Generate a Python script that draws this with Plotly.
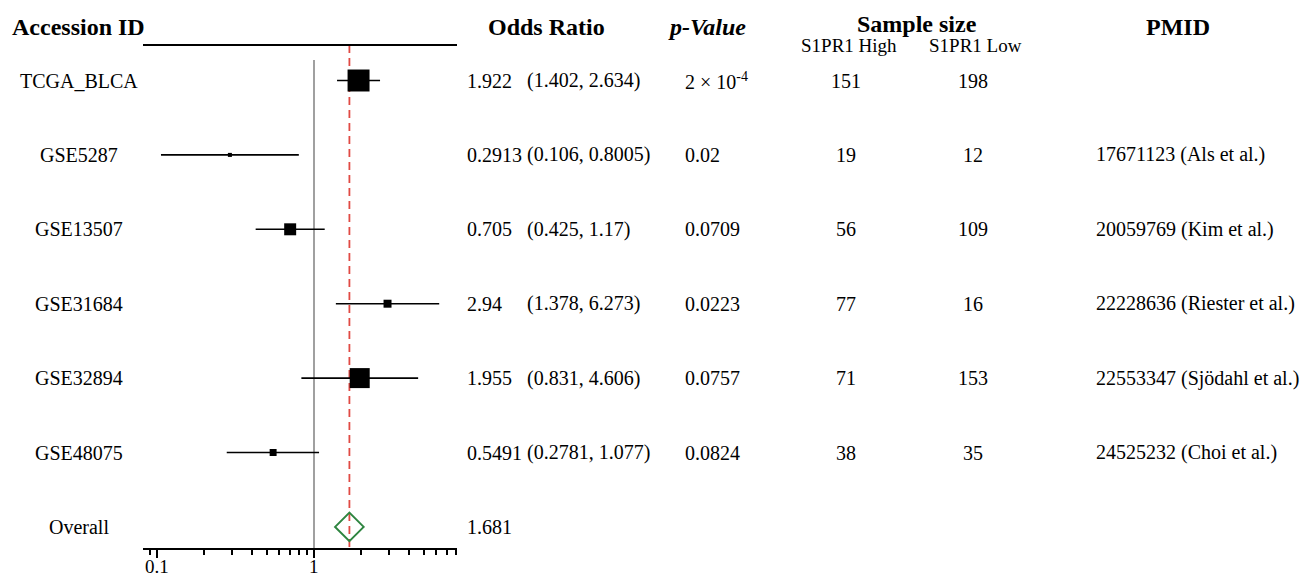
import math
import plotly.graph_objects as go

# ---------------- data ----------------
studies = ["TCGA_BLCA", "GSE5287", "GSE13507", "GSE31684", "GSE32894", "GSE48075"]
odds_ratio = [1.922, 0.2913, 0.705, 2.94, 1.955, 0.5491]
ci_low = [1.402, 0.106, 0.425, 1.378, 0.831, 0.2781]
ci_high = [2.634, 0.8005, 1.17, 6.273, 4.606, 1.077]
p_values = ["2 × 10<sup>-4</sup>", "0.02", "0.0709", "0.0223", "0.0757", "0.0824"]
n_high = [151, 19, 56, 77, 71, 38]
n_low = [198, 12, 109, 16, 153, 35]
pmids = ["", "17671123 (Als et al.)", "20059769 (Kim et al.)",
         "22228636 (Riester et al.)", "22553347 (Sjödahl et al.)",
         "24525232 (Choi et al.)"]
weights = [41.8, 1.4, 12.4, 5.5, 34.6, 4.2]   # relative study weights (box area)
overall_label = "Overall"
overall_or = 1.681
x_tickvals = [0.1, 1]
x_ticktext = ["0.1", "1"]
x_minor_ticks = [0.09, 0.2, 0.3, 0.4, 0.5, 0.6, 0.7, 0.8, 0.9, 2, 3, 4, 5, 6, 7, 8]

# ---------------- layout geometry ----------------
W, H = 1304, 579
FONT = "Liberation Serif"
ROW0_PX, ROW_STEP = 80.5, 74.4
AXIS_PX = 548
X_LEFT_PX, X_RIGHT_PX = 143, 457


def px_to_row(py):
    return (py - ROW0_PX) / ROW_STEP


def px_x(px):
    return px / W


def px_y(py):
    return 1 - py / H


n = len(studies)
rows = list(range(n))
overall_row = n
y_bottom = px_to_row(AXIS_PX)
y_top = px_to_row(0)

fig = go.Figure()

# reference line at OR = 1
fig.add_trace(go.Scatter(x=[1, 1], y=[px_to_row(60), y_bottom], mode="lines",
                         line=dict(color="#808080", width=1.5),
                         hoverinfo="skip", showlegend=False))
# overall effect dashed line
fig.add_trace(go.Scatter(x=[overall_or, overall_or], y=[px_to_row(45), y_bottom],
                         mode="lines",
                         line=dict(color="#e04a44", width=1.8, dash="8px,5px"),
                         hoverinfo="skip", showlegend=False))

# confidence intervals
wx, wy = [], []
for i in rows:
    wx += [ci_low[i], ci_high[i], None]
    wy += [i, i, None]
fig.add_trace(go.Scatter(x=wx, y=wy, mode="lines",
                         line=dict(color="black", width=1.6),
                         hoverinfo="skip", showlegend=False))

# study boxes
sizes = [3.4 * math.sqrt(w) for w in weights]
fig.add_trace(go.Scatter(x=odds_ratio, y=rows, mode="markers", opacity=1,
                         marker=dict(symbol="square", color="#000000", size=sizes,
                                     opacity=1, line=dict(width=0)),
                         hoverinfo="skip", showlegend=False))

# overall diamond
fig.add_trace(go.Scatter(x=[overall_or], y=[overall_row], mode="markers", opacity=1,
                         marker=dict(symbol="diamond-open", size=22, opacity=1,
                                     color="#2e8540", line=dict(color="#2e8540", width=2)),
                         hoverinfo="skip", showlegend=False))

# ---------------- text columns ----------------
ann = []
txt = dict(family=FONT, size=20, color="black")
hdr = dict(family=FONT, size=24, color="black")
sub = dict(family=FONT, size=19, color="black")
tck = dict(family=FONT, size=19, color="black")


def add(text, xpx, y, font, anchor="left", yref="y"):
    ann.append(dict(text=text, x=px_x(xpx), y=y, xref="paper", yref=yref,
                    xanchor=anchor, yanchor="middle", showarrow=False, font=font))


# headers
add("<b>Accession ID</b>", 10, px_y(27), hdr, "left", "paper")
add("<b>Odds Ratio</b>", 546, px_y(27), hdr, "center", "paper")
add("<b><i>p-Value</i></b>", 707, px_y(27), hdr, "center", "paper")
add("<b>Sample size</b>", 917, px_y(24), hdr, "center", "paper")
add("S1PR1 High", 849, px_y(45), sub, "center", "paper")
add("S1PR1 Low", 975, px_y(45), sub, "center", "paper")
add("<b>PMID</b>", 1178, px_y(27), hdr, "center", "paper")

for i in rows:
    add(studies[i], 79, i, txt, "center")
    add(str(odds_ratio[i]), 465, i, txt, "left")
    add(f"({ci_low[i]}, {ci_high[i]})", 525, i, txt, "left")
    add(p_values[i], 683, i, txt, "left")
    add(str(n_high[i]), 846, i, txt, "center")
    add(str(n_low[i]), 973, i, txt, "center")
    if pmids[i]:
        add(pmids[i], 1094, i, txt, "left")

add(overall_label, 79, overall_row, txt, "center")
add(str(overall_or), 465, overall_row, txt, "left")

# axis tick labels (placed as annotations on the log x axis)
for v, t in zip(x_tickvals, x_ticktext):
    ann.append(dict(text=t, x=math.log10(v), y=px_y(566), xref="x", yref="paper",
                    xanchor="center", yanchor="middle", showarrow=False, font=tck))

# header rule above the forest plot
shapes = [dict(type="line", xref="x domain", yref="paper", x0=0, x1=1,
               y0=px_y(45), y1=px_y(45), line=dict(color="black", width=2))]

x_range = [math.log10(x_tickvals[1]) - (314 - X_LEFT_PX) / 157.0,
           math.log10(x_tickvals[1]) + (X_RIGHT_PX - 314) / 157.0]

fig.update_layout(
    width=W, height=H,
    margin=dict(l=0, r=0, t=0, b=0),
    paper_bgcolor="white", plot_bgcolor="white",
    showlegend=False,
    font=dict(family=FONT, color="black"),
    annotations=ann,
    shapes=shapes,
    xaxis=dict(type="log", range=x_range,
               domain=[px_x(X_LEFT_PX), px_x(X_RIGHT_PX)],
               showgrid=False, zeroline=False,
               showline=True, linecolor="black", linewidth=2,
               tickmode="array", tickvals=x_tickvals, ticktext=x_ticktext,
               showticklabels=False,
               ticks="outside", ticklen=8, tickwidth=2, tickcolor="black",
               minor=dict(tickmode="array", tickvals=x_minor_ticks,
                          ticks="outside", ticklen=5, tickwidth=1.5,
                          tickcolor="black", showgrid=False),
               automargin=False, fixedrange=True),
    yaxis=dict(range=[y_bottom, y_top], domain=[px_y(AXIS_PX), 1],
               visible=False, showgrid=False, zeroline=False,
               automargin=False, fixedrange=True),
)

fig.write_html("out.html", config={"displayModeBar": False},
               post_script="document.body.style.margin='0';")
